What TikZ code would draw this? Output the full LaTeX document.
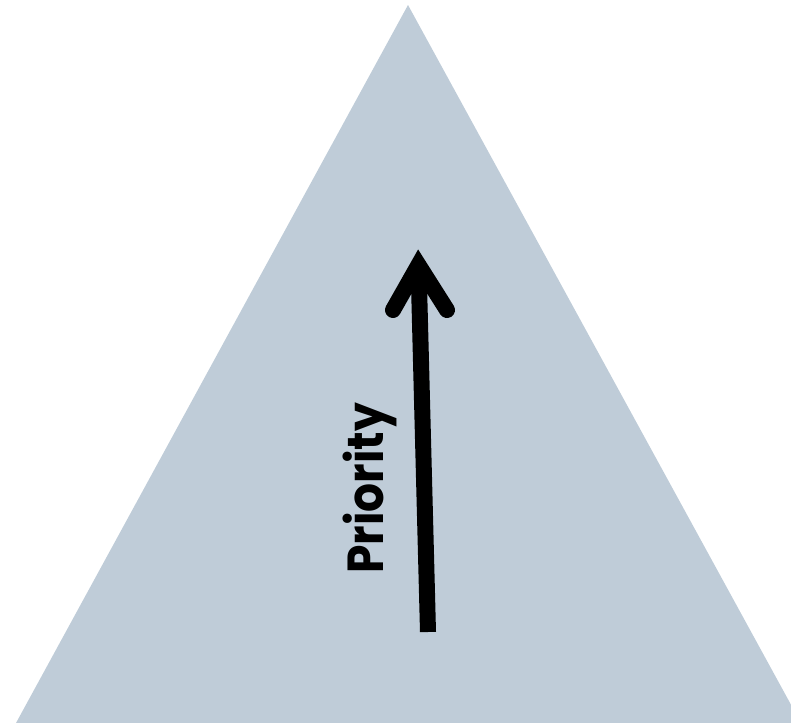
\documentclass[tikz,border=0pt]{standalone}
\usepackage{fontspec}
\newfontfamily\labelfont{Poppins}[FakeStretch=0.9]
\usetikzlibrary{calc}
\definecolor{PyramidFill}{HTML}{BFCCD8}
\tikzset{
  pyramid/.style={fill=PyramidFill, draw=none},
  shaft/.style={line width=0.4cm, line cap=butt, draw=black},
  chevron/.style={line width=0.4cm, line cap=round, line join=miter, draw=black},
  axislabel/.style={font=\labelfont\bfseries\fontsize{36}{36}\selectfont, rotate=90, anchor=base, inner sep=0pt},
}
\begin{document}
\begin{tikzpicture}[x=0.025cm,y=-0.025cm]
    \useasboundingbox (0,0) rectangle (791,723);
    \coordinate (apex) at (408,5);
    \coordinate (baseL) at (16,723);
    \coordinate (baseR) at (801,723);
    \fill[pyramid] (apex) -- (baseL) -- (baseR) -- cycle;
    \coordinate (tail) at (428,632);
    \coordinate (head) at (418.5,265);
    \coordinate (wingL) at (393,310);
    \coordinate (wingR) at (447,310);
    \draw[shaft] (tail) -- (head);
    \draw[chevron] (wingL) -- (head) -- (wingR);
    \node[axislabel] (priority) at (383,488.5) {Priority};
\end{tikzpicture}
\end{document}
